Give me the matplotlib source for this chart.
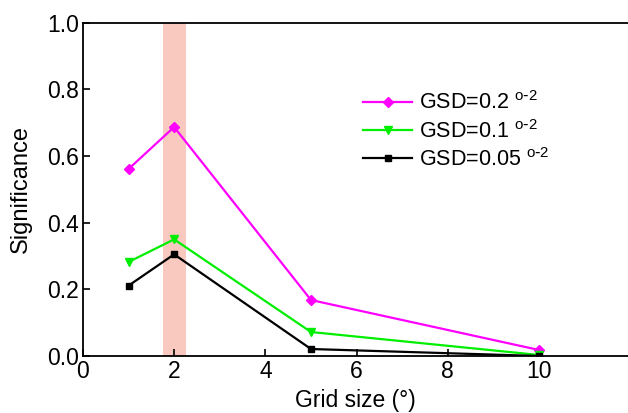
import matplotlib
matplotlib.use('Agg')
import matplotlib.pyplot as plt

plt.rcParams['font.family'] = ['Liberation Sans', 'DejaVu Sans']
plt.rcParams['mathtext.default'] = 'regular'

grid_size = [1, 2, 5, 10]
gsd_02 = [0.561, 0.687, 0.168, 0.018]
gsd_01 = [0.282, 0.350, 0.072, 0.003]
gsd_005 = [0.211, 0.305, 0.021, 0.000]
band = [1.75, 2.25]

fig = plt.figure(figsize=(6.28, 4.13), dpi=100)
ax = fig.add_axes([0.132, 0.138, 0.868, 0.807])

ax.axvspan(band[0], band[1], color='#f9c8bf', lw=0, zorder=0)
ax.plot(grid_size, gsd_02, color='#ff00ff', lw=1.6, marker='D', ms=5, label=r'GSD=0.2 $^{o\text{-}2}$')
ax.plot(grid_size, gsd_01, color='#00ee00', lw=1.6, marker='v', ms=6, label=r'GSD=0.1 $^{o\text{-}2}$')
ax.plot(grid_size, gsd_005, color='black', lw=1.6, marker='s', ms=5, label=r'GSD=0.05 $^{o\text{-}2}$')

ax.set_xlim(0, 11.95)
ax.set_ylim(0, 1.0)
ax.set_xticks([0, 2, 4, 6, 8, 10])
ax.set_yticks([0.0, 0.2, 0.4, 0.6, 0.8, 1.0])
ax.set_yticklabels(['0.0', '0.2', '0.4', '0.6', '0.8', '1.0'])
ax.tick_params(direction='in', labelsize=16.5, length=5, width=1.2, pad=3)
ax.spines['right'].set_visible(False)
for s in ['left', 'bottom', 'top']:
    ax.spines[s].set_linewidth(1.3)
ax.set_xlabel('Grid size (°)', fontsize=16.5, labelpad=4)
ax.set_ylabel('Significance', fontsize=17, labelpad=11)

ax.legend(loc='upper left', bbox_to_anchor=(0.498, 0.82), frameon=False, fontsize=15.5,
          handlelength=2.3, labelspacing=0.25, handletextpad=0.3, borderaxespad=0)

fig.savefig('out.png', dpi=100)
